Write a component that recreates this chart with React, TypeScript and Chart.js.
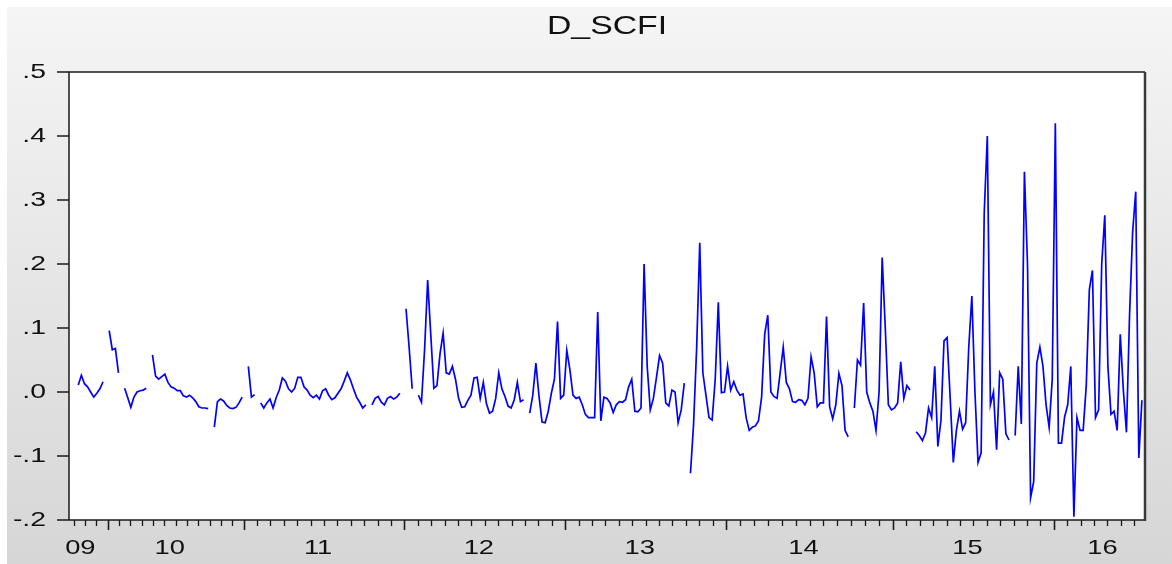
import React, { useEffect, useRef } from "react";
import { Chart, registerables } from "chart.js";

Chart.register(...registerables);

// ---- Data (weekly observations, null = missing) ----
const chartTitle = "D_SCFI";
const yearLabels = ["09", "10", "11", "12", "13", "14", "15", "16"];

const obs2009 = [null, null, 0.011, 0.026, 0.013, 0.008, 0.0, -0.008, -0.002, 0.005, 0.016, null];
const obs2010 = [
  0.096, 0.066, 0.068, 0.03, null,
  0.006, -0.009, -0.024, -0.008, 0.0, 0.002, 0.003, 0.006, null,
  0.058, 0.025, 0.02, 0.024, 0.028, 0.015, 0.008, 0.006, 0.002, 0.002, -0.006, -0.008, -0.005, -0.009, -0.015, -0.023, -0.025, -0.025, -0.026, null,
  -0.055, -0.015, -0.011, -0.014, -0.021, -0.025, -0.026, -0.024, -0.017, -0.008,
];
const obs2011 = [
  null, 0.04, -0.008, -0.004, null,
  -0.017, -0.025, -0.017, -0.011, -0.025, -0.009, 0.003, 0.022, 0.017, 0.005, 0.0, 0.006, 0.023, 0.023, 0.008, 0.003, -0.005, -0.009,
  -0.005, -0.011, 0.002, 0.005, -0.005, -0.012, -0.009, -0.002, 0.005, 0.017, 0.03, 0.019, 0.005, -0.008, -0.016, -0.025, -0.02, null,
  -0.02, -0.01, -0.007, -0.016, -0.02, -0.01, -0.007, -0.011, -0.008, -0.002, null,
];
const obs2012 = [
  0.13, 0.07, 0.005, null,
  -0.005, -0.016, 0.066, 0.175, 0.09, 0.006, 0.01, 0.06, 0.092, 0.03, 0.028, 0.04, 0.02, -0.01, -0.024, -0.023, -0.013, -0.005,
  0.022, 0.023, -0.01, 0.015, -0.018, -0.033, -0.03, -0.01, 0.03, 0.005, -0.007, -0.022, -0.025, -0.012, 0.015, -0.015, -0.012, null,
  -0.033, -0.005, 0.045, -0.006, -0.047, -0.048, -0.03, -0.002, 0.02, 0.11, -0.01, -0.005,
];
const obs2013 = [
  0.065, 0.035, -0.005, -0.01, -0.008, -0.02, -0.035, -0.04, -0.04, -0.04, 0.125, -0.045, -0.008, -0.01, -0.017, -0.032, -0.02,
  -0.015, -0.016, -0.012, 0.008, 0.02, -0.03, -0.031, -0.025, 0.2, 0.04, -0.028, -0.01, 0.023, 0.057, 0.045, -0.017, -0.022,
  0.003, 0.0, -0.048, -0.028, 0.014, null,
  -0.127, -0.05, 0.07, 0.233, 0.03, -0.005, -0.04, -0.044, 0.02, 0.14, -0.001, 0.0,
];
const obs2014 = [
  0.04, 0.003, 0.016, 0.003, -0.005, -0.003, -0.04, -0.06, -0.055, -0.053, -0.045, -0.008, 0.09, 0.12, 0.0, -0.007, -0.01, 0.03,
  0.07, 0.015, 0.005, -0.015, -0.016, -0.012, -0.013, -0.02, -0.01, 0.055, 0.03, -0.023, -0.017, -0.017, 0.118, -0.023, -0.042,
  -0.02, 0.029, 0.01, -0.06, -0.07, null,
  -0.025, 0.05, 0.042, 0.139, 0.0, -0.017, -0.03, -0.06, 0.0, 0.21, 0.1, -0.02, -0.028,
];
const obs2015 = [
  -0.025, -0.017, 0.047, -0.01, 0.01, 0.003, null,
  -0.062, -0.068, -0.076, -0.064, -0.025, -0.04, 0.04, -0.085, -0.045, 0.08, 0.085, -0.01, -0.11, -0.06, -0.03, -0.058, -0.048,
  0.07, 0.15, 0.0, -0.11, -0.095, 0.28, 0.4, -0.02, 0.0, -0.09, 0.03, 0.02, -0.065, -0.075, null,
  -0.068, 0.04, -0.05, 0.344, 0.2, -0.165, -0.14, 0.045, 0.07, 0.04, -0.02, -0.055, 0.02,
];
const obs2016 = [
  0.42, -0.08, -0.08, -0.039, -0.02, 0.04, -0.195, -0.04, -0.06, -0.06, 0.01, 0.16, 0.19, -0.04, -0.028, 0.2, 0.276, 0.04,
  -0.035, -0.03, -0.06, 0.09, 0.003, -0.063, 0.12, 0.25, 0.313, -0.103, -0.013,
];

const yearBlocks = [obs2009, obs2010, obs2011, obs2012, obs2013, obs2014, obs2015, obs2016];
const yTickValues = [-0.2, -0.1, 0, 0.1, 0.2, 0.3, 0.4, 0.5];

// ---- helpers ----
const W = 1172;
const H = 564;

function fmtTick(v: number): string {
  const r = Math.round(v * 10);
  if (r === 0) return ".0";
  return (r < 0 ? "-" : "") + "." + Math.abs(r);
}

function drawStretched(
  ctx: CanvasRenderingContext2D,
  text: string,
  x: number,
  y: number,
  align: CanvasTextAlign,
  font: string,
  sx: number
) {
  ctx.save();
  ctx.translate(x, y);
  ctx.scale(sx, 1);
  ctx.font = font;
  ctx.textAlign = align;
  ctx.textBaseline = "middle";
  ctx.fillStyle = "#111111";
  ctx.fillText(text, 0, 0);
  ctx.restore();
}

export default function App() {
  const canvasRef = useRef<HTMLCanvasElement | null>(null);

  useEffect(() => {
    const canvas = canvasRef.current;
    if (!canvas) return;

    const values: (number | null)[] = ([] as (number | null)[]).concat(...yearBlocks);
    const points = values.map((v, i) => ({ x: i, y: v }));

    // year boundaries (observation positions) derived from block lengths
    const boundaries: number[] = [];
    let acc = 0;
    yearBlocks.forEach((b, k) => {
      if (k > 0) boundaries.push(acc - 0.5);
      acc += b.length;
    });
    const xMin = -1;
    const xMax = values.length;

    const framePlugin = {
      id: "eviewsFrame",
      beforeDraw(chart: any) {
        const { ctx, chartArea } = chart;
        ctx.save();
        ctx.fillStyle = "#ffffff";
        ctx.fillRect(0, 0, W, H);
        const g = ctx.createLinearGradient(0, 7, 0, H);
        g.addColorStop(0, "#f5f5f5");
        g.addColorStop(1, "#d6d6d6");
        ctx.fillStyle = g;
        ctx.fillRect(7, 7, W - 7, H - 7);
        ctx.fillStyle = "#ffffff";
        ctx.fillRect(chartArea.left, chartArea.top, chartArea.right - chartArea.left, chartArea.bottom - chartArea.top);
        ctx.restore();
      },
      afterDraw(chart: any) {
        const { ctx, chartArea, scales } = chart;
        const xs = scales.x;
        const ys = scales.y;
        const { left, right, top, bottom } = chartArea;
        ctx.save();

        // frame
        ctx.strokeStyle = "#1a1a1a";
        ctx.lineWidth = 1.5;
        ctx.beginPath();
        ctx.moveTo(left, bottom);
        ctx.lineTo(left, top);
        ctx.lineTo(right, top);
        ctx.moveTo(left, bottom);
        ctx.lineTo(right, bottom);
        ctx.stroke();
        ctx.strokeStyle = "#3a3a3a";
        ctx.lineWidth = 2.5;
        ctx.beginPath();
        ctx.moveTo(right, top);
        ctx.lineTo(right, bottom + 1);
        ctx.stroke();

        // y ticks + labels
        ctx.strokeStyle = "#1a1a1a";
        ctx.lineWidth = 1.5;
        yTickValues.forEach((v) => {
          const py = ys.getPixelForValue(v);
          ctx.beginPath();
          ctx.moveTo(left - 12, py);
          ctx.lineTo(left, py);
          ctx.stroke();
          drawStretched(ctx, fmtTick(v), left - 23, py, "right", "21px 'Liberation Sans', Arial, sans-serif", 1.35);
        });

        // x ticks: majors at year boundaries, minors monthly
        const spans: [number, number][] = [];
        const edges = [xMin, ...boundaries, xMax];
        for (let k = 0; k < edges.length - 1; k++) spans.push([edges[k], edges[k + 1]]);
        const minor: number[] = [];
        for (let k = 0; k < boundaries.length - 1; k++) {
          const a = boundaries[k];
          const b = boundaries[k + 1];
          const step = (b - a) / 12;
          for (let m = 1; m < 12; m++) minor.push(a + m * step);
        }
        const firstStep = (boundaries[1] - boundaries[0]) / 12;
        for (let p = boundaries[0] - firstStep; p > xMin + 0.5; p -= firstStep) minor.push(p);
        const lastStep = (boundaries[boundaries.length - 1] - boundaries[boundaries.length - 2]) / 12;
        for (let p = boundaries[boundaries.length - 1] + lastStep; p < xMax - 0.3; p += lastStep) minor.push(p);

        ctx.lineWidth = 1.3;
        minor.forEach((v) => {
          const px = Math.round(xs.getPixelForValue(v)) + 0.5;
          ctx.beginPath();
          ctx.moveTo(px, bottom);
          ctx.lineTo(px, bottom + 6);
          ctx.stroke();
        });
        ctx.lineWidth = 1.6;
        boundaries.forEach((v) => {
          const px = Math.round(xs.getPixelForValue(v)) + 0.5;
          ctx.beginPath();
          ctx.moveTo(px, bottom);
          ctx.lineTo(px, bottom + 10);
          ctx.stroke();
        });

        // year labels, roughly centred in each year span (EViews sits them slightly left)
        spans.forEach(([a, b], k) => {
          const mid = (xs.getPixelForValue(a) + xs.getPixelForValue(b)) / 2;
          const shift = k === spans.length - 1 ? 3 : k === 0 ? -8 : -6;
          drawStretched(ctx, yearLabels[k], mid + shift, bottom + 28, "center", "21px 'Liberation Sans', Arial, sans-serif", 1.3);
        });

        // title
        drawStretched(ctx, chartTitle, (left + right) / 2, 27, "center", "25px 'Liberation Sans', Arial, sans-serif", 1.35);
        ctx.restore();
      },
    };

    const chart = new Chart(canvas, {
      type: "line",
      data: {
        datasets: [
          {
            label: chartTitle,
            data: points as any,
            borderColor: "#0000ff",
            borderWidth: 1.7,
            pointRadius: 0,
            pointHoverRadius: 0,
            spanGaps: false,
            tension: 0,
            fill: false,
          },
        ],
      },
      options: {
        responsive: false,
        maintainAspectRatio: false,
        animation: false,
        devicePixelRatio: 1,
        layout: { padding: { left: 69, right: 27, top: 72, bottom: 44 } },
        plugins: { legend: { display: false }, title: { display: false }, tooltip: { enabled: false } },
        scales: {
          x: { type: "linear", min: xMin, max: xMax, display: false },
          y: { type: "linear", min: -0.2, max: 0.5, display: false },
        },
      },
      plugins: [framePlugin],
    });

    return () => chart.destroy();
  }, []);

  return (
    <div style={{ position: "absolute", left: 0, top: 0, width: W, height: H }}>
      <canvas ref={canvasRef} width={W} height={H} style={{ display: "block", width: W, height: H }} />
    </div>
  );
}
